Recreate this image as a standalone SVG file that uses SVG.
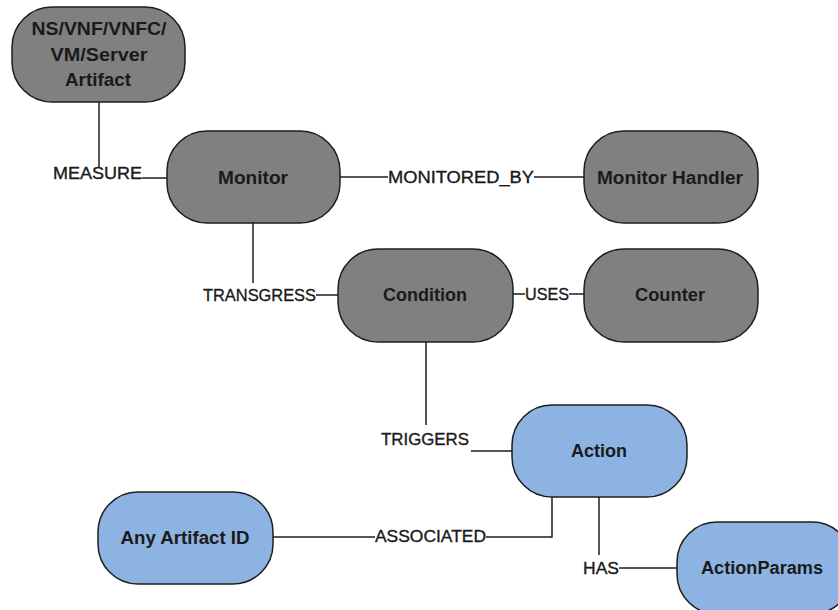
<svg xmlns="http://www.w3.org/2000/svg" width="838" height="610" viewBox="0 0 838 610">
  <style>
    .node rect { stroke: #1e1e1e; stroke-width: 1.5; }
    .gray rect { fill: #808080; }
    .blue rect { fill: #8db3e2; }
    .node text { font-family: "Liberation Sans", Arial, sans-serif; font-weight: bold; font-size: 18px; fill: #1a1a1a; text-anchor: middle; }
    .edge { fill: none; stroke: #1e1e1e; stroke-width: 1.5; }
    .label { font-family: "Liberation Sans", Arial, sans-serif; font-size: 17px; fill: #1a1a1a; stroke: #1a1a1a; stroke-width: 0.35; }
  </style>
  <rect width="838" height="610" fill="#ffffff"/>

  <g id="connectors">
    <!-- Artifact - MEASURE - Monitor -->
    <polyline class="edge" points="99,102 99,168"/>
    <line class="edge" x1="142" y1="178" x2="167" y2="178"/>
    <text class="label" x="53" y="179" textLength="89" lengthAdjust="spacingAndGlyphs">MEASURE</text>
    <!-- Monitor - MONITORED_BY - Monitor Handler -->
    <line class="edge" x1="340" y1="177" x2="388" y2="177"/>
    <line class="edge" x1="534" y1="177" x2="584" y2="177"/>
    <text class="label" x="388" y="183" textLength="146" lengthAdjust="spacingAndGlyphs">MONITORED_BY</text>
    <!-- Monitor - TRANSGRESS - Condition -->
    <line class="edge" x1="253" y1="223" x2="253" y2="283"/>
    <line class="edge" x1="316" y1="295" x2="338" y2="295"/>
    <text class="label" x="203" y="301" textLength="113" lengthAdjust="spacingAndGlyphs">TRANSGRESS</text>
    <!-- Condition - USES - Counter -->
    <line class="edge" x1="513" y1="294" x2="525" y2="294"/>
    <line class="edge" x1="569" y1="294" x2="584" y2="294"/>
    <text class="label" x="525" y="300" textLength="44" lengthAdjust="spacingAndGlyphs">USES</text>
    <!-- Condition - TRIGGERS - Action -->
    <line class="edge" x1="426" y1="342" x2="426" y2="425"/>
    <line class="edge" x1="471" y1="451" x2="512" y2="451"/>
    <text class="label" x="381" y="445" textLength="88" lengthAdjust="spacingAndGlyphs">TRIGGERS</text>
    <!-- Action - ASSOCIATED - Any Artifact ID -->
    <polyline class="edge" points="552,497 552,537 486,537"/>
    <line class="edge" x1="273" y1="537" x2="375" y2="537"/>
    <text class="label" x="375" y="542" textLength="111" lengthAdjust="spacingAndGlyphs">ASSOCIATED</text>
    <!-- Action - HAS - ActionParams -->
    <line class="edge" x1="599" y1="497" x2="599" y2="555"/>
    <line class="edge" x1="619" y1="568" x2="677" y2="568"/>
    <text class="label" x="583" y="574" textLength="36" lengthAdjust="spacingAndGlyphs">HAS</text>
  </g>

  <g id="artifact" class="node gray">
    <rect x="12" y="7" width="173" height="95" rx="40"/>
    <text x="99" y="35" textLength="135" lengthAdjust="spacingAndGlyphs">NS/VNF/VNFC/</text>
    <text x="99" y="61" textLength="97" lengthAdjust="spacingAndGlyphs">VM/Server</text>
    <text x="98" y="86" textLength="66" lengthAdjust="spacingAndGlyphs">Artifact</text>
  </g>
  <g id="monitor" class="node gray">
    <rect x="167" y="131" width="173" height="92" rx="40"/>
    <text x="253" y="184" textLength="70" lengthAdjust="spacingAndGlyphs">Monitor</text>
  </g>
  <g id="monitor-handler" class="node gray">
    <rect x="584" y="131" width="174" height="92" rx="40"/>
    <text x="670" y="184" textLength="146" lengthAdjust="spacingAndGlyphs">Monitor Handler</text>
  </g>
  <g id="condition" class="node gray">
    <rect x="338" y="249" width="175" height="93" rx="40"/>
    <text x="425" y="301" textLength="84" lengthAdjust="spacingAndGlyphs">Condition</text>
  </g>
  <g id="counter" class="node gray">
    <rect x="584" y="249" width="174" height="93" rx="40"/>
    <text x="670" y="301" textLength="70" lengthAdjust="spacingAndGlyphs">Counter</text>
  </g>
  <g id="action" class="node blue">
    <rect x="512" y="405" width="175" height="92" rx="40"/>
    <text x="599" y="457" textLength="56" lengthAdjust="spacingAndGlyphs">Action</text>
  </g>
  <g id="any-artifact-id" class="node blue">
    <rect x="98" y="492" width="175" height="92" rx="40"/>
    <text x="185" y="544" textLength="129" lengthAdjust="spacingAndGlyphs">Any Artifact ID</text>
  </g>
  <g id="action-params" class="node blue">
    <rect x="677" y="522" width="175" height="92" rx="40"/>
    <text x="762" y="574" textLength="122" lengthAdjust="spacingAndGlyphs">ActionParams</text>
  </g>
</svg>
